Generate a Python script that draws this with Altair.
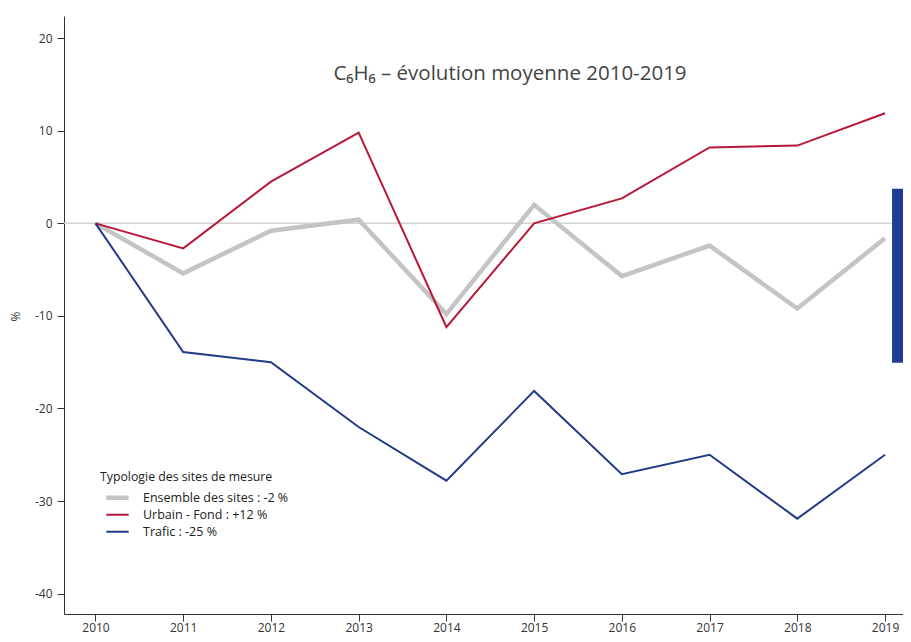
import altair as alt
import pandas as pd

# ---- data ----
years = list(range(2010, 2020))
ensemble = [0, -5.4, -0.8, 0.4, -9.8, 2.0, -5.7, -2.4, -9.2, -1.6]
urbain = [0, -2.7, 4.5, 9.8, -11.2, 0.0, 2.7, 8.2, 8.4, 11.9]
trafic = [0, -13.9, -15.0, -22.0, -27.8, -18.1, -27.1, -25.0, -31.9, -25.0]

series_names = ["Ensemble des sites : -2 %", "Urbain - Fond : +12 %", "Trafic : -25 %"]
series_colors = ["#c4c4c4", "#b8173a", "#233a86"]
series_widths = [4.5, 2, 2]

x_ticks = years
y_ticks = [-40, -30, -20, -10, 0, 10, 20]

bar_x = [2019.08, 2019.5]
bar_y = [3.73, -15.05]

title_text = "C\u2086H\u2086 \u2013 évolution moyenne 2010-2019"
legend_title = "Typologie des sites de mesure"

FONT = "Open Sans"

rows = []
for name, vals in zip(series_names, [ensemble, urbain, trafic]):
    for yr, v in zip(years, vals):
        rows.append({"year": yr, "value": v, "serie": name})
df = pd.DataFrame(rows)

xscale = alt.Scale(domain=[2009.641, 2019.205], nice=False, zero=False)
yscale = alt.Scale(domain=[-42.2, 22.4], nice=False, zero=False)

zero = alt.Chart(pd.DataFrame({"v": [0]})).mark_rule(
    color="#d4d4d4", strokeWidth=1.5
).encode(y=alt.Y("v:Q", scale=yscale))

leg = dict(title=legend_title, orient="none", legendX=36, legendY=455)

lines = alt.Chart(df).mark_line(strokeJoin="miter").encode(
    x=alt.X("year:Q", scale=xscale,
            axis=alt.Axis(values=x_ticks, format="d", title=None, grid=False,
                          tickSize=7, labelPadding=1)),
    y=alt.Y("value:Q", scale=yscale,
            axis=alt.Axis(values=y_ticks, title="%", grid=False, tickSize=7,
                          labelPadding=5, titleX=-42, titleY=300,
                          labelExpr="'' + datum.value",
                          titleFontWeight="normal", titleFontSize=12)),
    color=alt.Color("serie:N",
                    scale=alt.Scale(domain=series_names, range=series_colors),
                    legend=alt.Legend(**leg,
                                      symbolType="stroke", symbolSize=500,
                                      symbolOffset=4, clipHeight=17,
                                      labelFontSize=12.5, titleFontSize=12.3,
                                      titleFontWeight="normal",
                                      labelFont=FONT, titleFont=FONT,
                                      titleColor="#222", labelColor="#222",
                                      rowPadding=0, titlePadding=6,
                                      labelOffset=12)),
    strokeWidth=alt.StrokeWidth("serie:N",
                                scale=alt.Scale(type="ordinal", domain=series_names,
                                                range=series_widths),
                                legend=alt.Legend(**leg)),
    order=alt.Order("year:Q"),
)

bar = alt.Chart(pd.DataFrame({"x1": [bar_x[0]], "x2": [bar_x[1]],
                              "y1": [bar_y[0]], "y2": [bar_y[1]]})).mark_rect(
    color="#1f3b97", clip=True
).encode(x=alt.X("x1:Q", scale=xscale), x2="x2", y=alt.Y("y1:Q", scale=yscale), y2="y2")

title = alt.Chart(pd.DataFrame({"t": [title_text]})).mark_text(
    font=FONT, fontSize=20.5, color="#444", align="center", baseline="middle"
).encode(x=alt.value(446), y=alt.value(58), text="t:N")

chart = alt.layer(zero, lines, bar, title).properties(
    width=839, height=598,
    autosize=alt.AutoSizeParams(type="none"),
    padding={"left": 56, "top": 8, "right": 0, "bottom": 20},
).configure_view(stroke=None).configure_axis(
    domainColor="#333", tickColor="#333", labelColor="#333",
    labelFont=FONT, titleFont=FONT, labelFontSize=12, titleColor="#333",
)

chart.save("out.html", embed_options={"renderer": "svg", "actions": False})
